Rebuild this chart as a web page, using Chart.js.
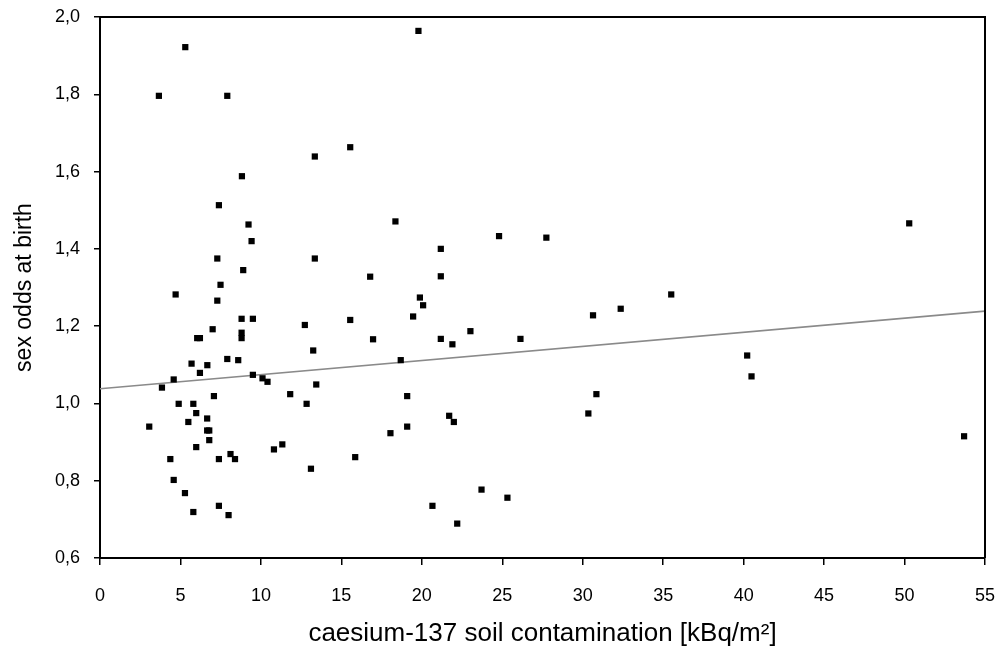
<!DOCTYPE html>
<html><head><meta charset="utf-8">
<script src="https://cdn.jsdelivr.net/npm/chart.js@4.4.1/dist/chart.umd.min.js"></script>
<style>html,body{margin:0;padding:0;background:#fff}#wrap{width:1002px;height:650px}</style>
</head><body><div id="wrap"><canvas id="c" width="1002" height="650"></canvas></div>
<script>
// caesium-137 soil contamination [kBq/m²]
const contamination = [
  5.30, 3.66, 7.91, 15.55, 13.35, 8.82, 7.39, 19.79, 9.23, 18.36,
  9.42, 7.29, 13.35, 8.90, 16.79, 7.49, 4.70, 7.29, 8.80, 9.50,
  15.55, 12.73, 7.00, 8.80, 6.04, 6.21, 8.80, 16.97, 13.25, 7.91,
  8.59, 18.69, 5.69, 6.67, 6.21, 9.50, 10.10, 10.41, 4.58, 3.85,
  13.44, 11.82, 7.08, 4.89, 5.80, 12.84, 5.98, 6.66, 5.49, 3.06,
  6.66, 6.79, 6.79, 18.05, 11.33, 10.81, 5.98, 8.11, 4.37, 7.39,
  8.39, 15.86, 13.11, 4.58, 5.28, 7.39, 5.80, 7.99, 24.80, 27.74,
  21.18, 21.18, 35.50, 19.88, 20.08, 32.36, 30.64, 19.46, 23.02, 21.18,
  21.90, 26.13, 19.09, 30.85, 30.35, 19.09, 21.70, 21.99, 23.71, 25.32,
  20.66, 22.20, 50.29, 40.22, 40.49, 53.70
];
// sex odds at birth
const sexOdds = [
  1.922, 1.796, 1.796, 1.663, 1.639, 1.588, 1.513, 1.964, 1.463, 1.471,
  1.420, 1.375, 1.375, 1.345, 1.328, 1.307, 1.282, 1.266, 1.219, 1.219,
  1.216, 1.203, 1.192, 1.183, 1.169, 1.169, 1.169, 1.166, 1.137, 1.115,
  1.112, 1.112, 1.103, 1.099, 1.079, 1.074, 1.065, 1.056, 1.062, 1.041,
  1.049, 1.024, 1.019, 0.999, 0.999, 0.999, 0.975, 0.961, 0.952, 0.940,
  0.930, 0.930, 0.905, 0.923, 0.894, 0.881, 0.887, 0.869, 0.856, 0.856,
  0.856, 0.861, 0.831, 0.802, 0.768, 0.735, 0.719, 0.711, 1.433, 1.429,
  1.400, 1.329, 1.282, 1.274, 1.254, 1.245, 1.228, 1.225, 1.187, 1.167,
  1.153, 1.167, 1.019, 1.024, 0.974, 0.940, 0.968, 0.952, 0.777, 0.756,
  0.735, 0.689, 1.466, 1.124, 1.070, 0.915
];
// linear trend line end points
const trendX = [0, 55];
const trendY = [1.038, 1.239];

const xTitle = 'caesium-137 soil contamination [kBq/m²]';
const yTitle = 'sex odds at birth';

const points = contamination.map((x, i) => ({x: x, y: sexOdds[i]}));
const trend = trendX.map((x, i) => ({x: x, y: trendY[i]}));

const framePlugin = {
  id: 'frame',
  afterDatasetsDraw(chart) {
    const a = chart.chartArea, ctx = chart.ctx;
    ctx.save();
    ctx.strokeStyle = '#000';
    ctx.lineWidth = 2;
    ctx.beginPath();
    ctx.moveTo(a.left, a.top);
    ctx.lineTo(a.right, a.top);
    ctx.lineTo(a.right, a.bottom);
    ctx.stroke();
    ctx.restore();
  }
};

const FONT = "'Liberation Sans', Arial, sans-serif";

new Chart(document.getElementById('c'), {
  type: 'scatter',
  data: {
    datasets: [
      {
        type: 'line',
        data: trend,
        borderColor: '#8a8a8a',
        borderWidth: 1.6,
        pointRadius: 0,
        fill: false,
        order: 2
      },
      {
        data: points,
        pointStyle: 'rect',
        pointRadius: 4.4,
        backgroundColor: '#000',
        borderColor: '#000',
        borderWidth: 0,
        order: 1
      }
    ]
  },
  options: {
    responsive: false,
    animation: false,
    devicePixelRatio: 1,
    layout: {padding: {top: 17, right: 17, bottom: 0, left: 0}},
    plugins: {legend: {display: false}, tooltip: {enabled: false}},
    scales: {
      x: {
        type: 'linear',
        min: 0, max: 55,
        ticks: {stepSize: 5, color: '#000', font: {family: FONT, size: 18}, padding: 20, maxRotation: 0},
        grid: {display: true, drawOnChartArea: false, drawTicks: true, tickLength: 7, color: '#000', lineWidth: 1.5},
        border: {display: true, color: '#000', width: 2},
        title: {display: true, text: xTitle, color: '#000', font: {family: FONT, size: 26}, padding: {top: 0, bottom: 1}},
        afterFit(s) { s.height = 92; s.paddingLeft = 0; s.paddingRight = 0; }
      },
      y: {
        type: 'linear',
        min: 0.6, max: 2.0,
        ticks: {stepSize: 0.2, color: '#000', font: {family: FONT, size: 18}, padding: 14,
          callback: v => Number(v).toFixed(1).replace('.', ',')},
        grid: {display: true, drawOnChartArea: false, drawTicks: true, tickLength: 6, color: '#000', lineWidth: 1.5},
        border: {display: true, color: '#000', width: 2},
        title: {display: true, text: yTitle, color: '#000', font: {family: FONT, size: 23}, padding: {top: 11, bottom: 0}},
        afterFit(s) { s.width = 100; s.paddingTop = 0; s.paddingBottom = 0; }
      }
    }
  },
  plugins: [framePlugin]
});
</script>
</body></html>
